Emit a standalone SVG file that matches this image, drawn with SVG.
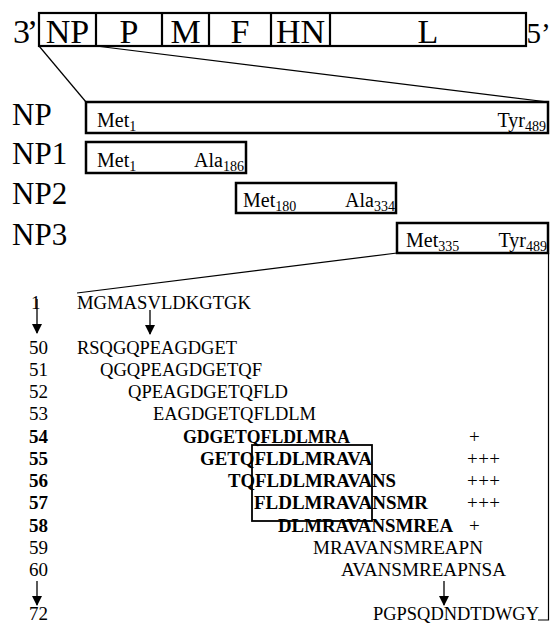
<svg xmlns="http://www.w3.org/2000/svg" width="551" height="623" viewBox="0 0 551 623">
<defs>
<style>
text{font-family:"Liberation Serif","Times New Roman",serif;fill:#000}
.big{font-size:34px}
.lab{font-size:31px}
.aa{font-size:20px}
.sub{font-size:14px}
.seq{font-size:19px}
.b{font-weight:bold}
.box{fill:#fff;stroke:#000;stroke-width:2.5}
.thin{fill:none;stroke:#000;stroke-width:1.2}
.arr{stroke:#000;stroke-width:1.3;fill:none}
</style>
<marker id="ah" viewBox="0 0 10 10" refX="9" refY="5" markerWidth="10" markerHeight="10" markerUnits="userSpaceOnUse" orient="auto">
<path d="M0,0 L10,5 L0,10 Z" fill="#000"/>
</marker>
</defs>
<rect width="551" height="623" fill="#fff"/>

<g id="connectors">
<line class="thin" x1="39" y1="46" x2="86" y2="102"/>
<line class="thin" x1="96" y1="46" x2="548" y2="102"/>
<line class="thin" x1="397" y1="253" x2="77" y2="293"/>
<polyline class="thin" points="548.5,253 548.5,620 538,620"/>
<line class="arr" x1="37" y1="299" x2="37" y2="333" marker-end="url(#ah)"/>
<line class="arr" x1="150" y1="310" x2="150" y2="334" marker-end="url(#ah)"/>
<line class="arr" x1="37" y1="581" x2="37" y2="605" marker-end="url(#ah)"/>
<line class="arr" x1="444" y1="581" x2="444" y2="605" marker-end="url(#ah)"/>
</g>

<g id="genome">
<rect x="39" y="13" width="487" height="33" fill="#fff" stroke="#000" stroke-width="2.2"/>
<g stroke="#000" stroke-width="2.2">
<line x1="96" y1="13" x2="96" y2="46"/>
<line x1="162" y1="13" x2="162" y2="46"/>
<line x1="209" y1="13" x2="209" y2="46"/>
<line x1="271" y1="13" x2="271" y2="46"/>
<line x1="330" y1="13" x2="330" y2="46"/>
</g>
<text class="big" x="13" y="43" textLength="25" lengthAdjust="spacing">3’</text>
<text x="526.5" y="43" style="font-size:29px">5’</text>
<g class="big" text-anchor="middle">
<text x="67.5" y="43">NP</text>
<text x="129" y="43">P</text>
<text x="185.5" y="43">M</text>
<text x="240" y="43">F</text>
<text x="300.5" y="43">HN</text>
<text x="428" y="43">L</text>
</g>
</g>

<g id="np">
<text class="lab" x="12" y="125">NP</text>
<rect class="box" x="86" y="102" width="462" height="31"/>
<text class="aa" x="97" y="127">Met<tspan class="sub" dy="4">1</tspan></text>
<text class="aa" x="546" y="127" text-anchor="end">Tyr<tspan class="sub" dy="4">489</tspan></text>
</g>

<g id="np1">
<text class="lab" x="12" y="164">NP1</text>
<rect class="box" x="86" y="142" width="160" height="31"/>
<text class="aa" x="97" y="167">Met<tspan class="sub" dy="4">1</tspan></text>
<text class="aa" x="244" y="167" text-anchor="end">Ala<tspan class="sub" dy="4">186</tspan></text>
</g>

<g id="np2">
<text class="lab" x="12" y="204">NP2</text>
<rect class="box" x="236" y="183" width="160" height="30"/>
<text class="aa" x="243" y="207">Met<tspan class="sub" dy="4">180</tspan></text>
<text class="aa" x="395" y="207" text-anchor="end">Ala<tspan class="sub" dy="4">334</tspan></text>
</g>

<g id="np3">
<text class="lab" x="12" y="245">NP3</text>
<rect class="box" x="397" y="223" width="151" height="30"/>
<text class="aa" x="406" y="247">Met<tspan class="sub" dy="4">335</tspan></text>
<text class="aa" x="547" y="247" text-anchor="end">Tyr<tspan class="sub" dy="4">489</tspan></text>
</g>

<g id="peptides">
<text class="seq" x="31" y="309">1</text>
<text class="seq" x="77" y="309" textLength="174" lengthAdjust="spacingAndGlyphs">MGMASVLDKGTGK</text>
<text class="seq" x="29" y="354">50</text>
<text class="seq" x="77" y="354" textLength="160" lengthAdjust="spacingAndGlyphs">RSQGQPEAGDGET</text>
<text class="seq" x="29" y="376">51</text>
<text class="seq" x="100" y="376" textLength="162" lengthAdjust="spacingAndGlyphs">QGQPEAGDGETQF</text>
<text class="seq" x="29" y="398">52</text>
<text class="seq" x="128" y="398" textLength="160" lengthAdjust="spacingAndGlyphs">QPEAGDGETQFLD</text>
<text class="seq" x="29" y="420">53</text>
<text class="seq" x="153" y="420" textLength="163" lengthAdjust="spacingAndGlyphs">EAGDGETQFLDLM</text>
<text class="seq b" x="29" y="443">54</text>
<text class="seq b" x="183" y="443" textLength="167" lengthAdjust="spacingAndGlyphs">GDGETQFLDLMRA</text>
<text class="seq" x="469" y="443">+</text>
<text class="seq b" x="29" y="465">55</text>
<text class="seq b" x="200" y="465" textLength="172" lengthAdjust="spacingAndGlyphs">GETQFLDLMRAVA</text>
<text class="seq" x="467" y="465" textLength="33">+++</text>
<text class="seq b" x="29" y="487">56</text>
<text class="seq b" x="228" y="487" textLength="168" lengthAdjust="spacingAndGlyphs">TQFLDLMRAVANS</text>
<text class="seq" x="467" y="487" textLength="33">+++</text>
<text class="seq b" x="29" y="509">57</text>
<text class="seq b" x="254" y="509" textLength="174" lengthAdjust="spacingAndGlyphs">FLDLMRAVANSMR</text>
<text class="seq" x="467" y="509" textLength="33">+++</text>
<text class="seq b" x="29" y="532">58</text>
<text class="seq b" x="278" y="532" textLength="175" lengthAdjust="spacingAndGlyphs">DLMRAVANSMREA</text>
<text class="seq" x="469" y="532">+</text>
<text class="seq" x="29" y="554">59</text>
<text class="seq" x="313" y="554" textLength="170" lengthAdjust="spacingAndGlyphs">MRAVANSMREAPN</text>
<text class="seq" x="29" y="576">60</text>
<text class="seq" x="341" y="576" textLength="165" lengthAdjust="spacingAndGlyphs">AVANSMREAPNSA</text>
<text class="seq" x="29" y="620">72</text>
<text class="seq" x="373" y="620" textLength="166" lengthAdjust="spacingAndGlyphs">PGPSQDNDTDWGY</text>
<rect x="252" y="445" width="120" height="76" fill="none" stroke="#000" stroke-width="1.8"/>
</g>
</svg>
